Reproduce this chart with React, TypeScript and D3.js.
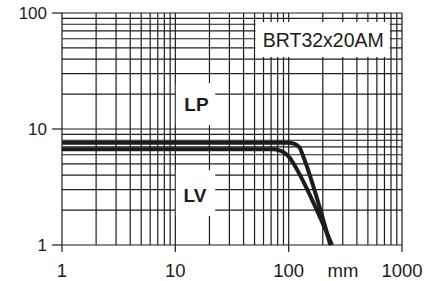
import * as d3 from "d3";

// grid values (log decades, 1..9 subdivisions)
const xGrid: number[] = [];
const yGrid: number[] = [];
for (const dec of [1, 10, 100]) {
  for (let k = 1; k <= 9; k++) {
    xGrid.push(dec * k);
    if (dec < 100) yGrid.push(dec * k);
  }
}
xGrid.push(1000);
yGrid.push(100);

const xTicks = [1, 10, 100, 1000];
const yTicks = [1, 10, 100];

// curves (x in mm, y value)
const lpX = [1, 100, 108, 118, 126, 131, 233];
const lpY = [7.6, 7.6, 7.55, 7.25, 6.8, 6.2, 1];
const lvX = [1, 72, 84, 93, 103, 110, 241];
const lvY = [6.68, 6.68, 6.5, 6.17, 5.6, 5.06, 1];

// white label boxes, in data units: [x0, x1, y0, y1]
const labelBoxes = [
  { text: "LP", box: [10.1, 22.5, 10.8, 24.9], bold: true },
  { text: "LV", box: [10.1, 22.5, 1.78, 4.43], bold: true },
  { text: "BRT32x20AM", box: [51, 780, 41.8, 83.6], bold: false },
];

const W = 443;
const H = 281;
const margin = { top: 13, right: 41, bottom: 36, left: 62 };
const font = "'Liberation Sans', Arial, Helvetica, sans-serif";
const ink = "#1c1c1c";

export default function App() {
  const x = d3.scaleLog().domain([1, 1000]).range([margin.left, W - margin.right]);
  const y = d3.scaleLog().domain([1, 100]).range([H - margin.bottom, margin.top]);

  const line = d3
    .line<[number, number]>()
    .x((d) => x(d[0]))
    .y((d) => y(d[1]))
    .curve(d3.curveMonotoneX);

  const lp = line(lpX.map((v, i) => [v, lpY[i]] as [number, number])) ?? "";
  const lv = line(lvX.map((v, i) => [v, lvY[i]] as [number, number])) ?? "";

  const x0 = x(1), x1 = x(1000), y0 = y(1), y1 = y(100);

  return (
    <svg
      width={W}
      height={H}
      style={{ position: "absolute", left: 0, top: 0, background: "#fff" }}
      fontFamily={font}
    >
      {/* grid */}
      <g stroke={ink} strokeWidth={1.2}>
        {xGrid.map((v) => (
          <line key={"x" + v} x1={x(v)} x2={x(v)} y1={y0} y2={y1} />
        ))}
        {yGrid.map((v) => (
          <line key={"y" + v} x1={x0} x2={x1} y1={y(v)} y2={y(v)} />
        ))}
        {yTicks.map((v) => (
          <line key={"ty" + v} x1={x0 - 10} x2={x0} y1={y(v)} y2={y(v)} />
        ))}
        {xTicks.map((v) => (
          <line key={"tx" + v} x1={x(v)} x2={x(v)} y1={y0} y2={y0 + 7} />
        ))}
      </g>

      {/* label boxes */}
      {labelBoxes.map((b) => (
        <rect
          key={"r" + b.text}
          x={x(b.box[0])}
          width={x(b.box[1]) - x(b.box[0])}
          y={y(b.box[3])}
          height={y(b.box[2]) - y(b.box[3])}
          fill="#fff"
        />
      ))}

      {/* curves */}
      <path d={lp} fill="none" stroke={ink} strokeWidth={4} />
      <path d={lv} fill="none" stroke={ink} strokeWidth={4} />

      {/* labels */}
      <text x={196.5} y={111} textAnchor="middle" fontWeight="bold" fontSize={19} fill={ink}>
        LP
      </text>
      <text x={195} y={201.7} textAnchor="middle" fontWeight="bold" fontSize={19} fill={ink}>
        LV
      </text>
      <text x={323.3} y={46.7} textAnchor="middle" fontSize={19.5} fill={ink}>
        BRT32x20AM
      </text>

      {/* axis labels */}
      {yTicks.map((v) => (
        <text
          key={"ly" + v}
          x={x0 - 15}
          y={y(v)}
          dy="0.36em"
          textAnchor="end"
          fontSize={17}
          fill={ink}
        >
          {v}
        </text>
      ))}
      {xTicks.map((v) => (
        <text key={"lx" + v} x={x(v)} y={276.5} textAnchor="middle" fontSize={18.5} fill={ink}>
          {v}
        </text>
      ))}
      <text x={343} y={276.5} textAnchor="middle" fontSize={18.5} fill={ink}>
        mm
      </text>
    </svg>
  );
}
